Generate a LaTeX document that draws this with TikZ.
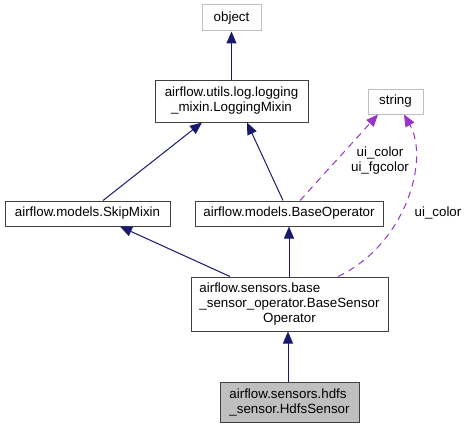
\documentclass[tikz,border=0pt]{standalone}
\usepackage{fontspec}
\setmainfont{Liberation Sans}
\usetikzlibrary{arrows.meta}
\definecolor{navy}{HTML}{191970}
\definecolor{purp}{HTML}{9A32CD}
\definecolor{edgegray}{HTML}{404040}
\definecolor{lightg}{HTML}{BFBFBF}
\newlength\bsw
\begin{document}
\begin{tikzpicture}[x=0.75pt,y=-0.75pt,
  every node/.style={font=\fontsize{10pt}{11.25pt}\selectfont},
  cls/.style={draw=edgegray,line width=0.75pt,fill=white,inner sep=0pt,align=center},
  ext/.style={draw=lightg,line width=0.75pt,fill=white,inner sep=0pt,align=center},
  inh/.style={draw=navy,line width=0.75pt,-{Triangle[length=9pt,width=7.5pt,fill=navy]}},
  use/.style={draw=purp,line width=0.75pt,dash pattern=on 5pt off 4pt,-{Triangle[length=9pt,width=7.5pt,fill=purp]}},
  lbl/.style={align=center,inner sep=0pt}]
\useasboundingbox (0,0) rectangle (467,428);
\node[ext,minimum width=44.25pt,minimum height=19.5pt] (obj) at (231.5,18) {object};
\node[cls,minimum width=114.75pt,minimum height=31.5pt] (log) at (231.5,101) {airflow.utils.log.logging\\\_mixin.LoggingMixin};
\node[ext,minimum width=41.25pt,minimum height=18.75pt] (str) at (395.5,101.5) {string};
\node[cls,minimum width=123.75pt,minimum height=18.75pt] (skip) at (87.5,213.5) {airflow.models.SkipMixin};
\node[cls,minimum width=141pt,minimum height=18.75pt] (bop) at (289,213.5) {airflow.models.BaseOperator};
\node[cls,minimum width=147.75pt,minimum height=40.5pt] (bso) at (289.5,304) {\settowidth{\bsw}{\_sensor\_operator.BaseSensor}\makebox[\bsw][l]{airflow.sensors.base}\\\_sensor\_operator.BaseSensor\\Operator};
\node[cls,fill=lightg,align=left,minimum width=104.25pt,minimum height=30pt] (hdfs) at (289.5,402) {airflow.sensors.hdfs\\\_sensor.HdfsSensor};
\draw[inh] (log.north) -- (obj.south);
\draw[inh] (skip.north -| 103,0) -- (log.south -| 202,0);
\draw[inh] (bop.north -| 283,0) -- (log.south -| 247,0);
\draw[inh] (bso.north -| 230,0) -- (skip.south -| 120,0);
\draw[inh] (bso.north -| 289,0) -- (bop.south -| 289,0);
\draw[inh] (hdfs.north -| 288,0) -- (bso.south -| 288,0);
\draw[use] (bop.north -| 300,0) -- (str.south -| 378,0);
\draw[use] (bso.north -| 338,0) .. controls (405,245) and (430,160) .. (str.south -| 404,0);
\node[lbl] (l1) at (380,160.5) {ui\_color\\ui\_fgcolor};
\node[lbl] (l2) at (438,213) {ui\_color};
\end{tikzpicture}
\end{document}
